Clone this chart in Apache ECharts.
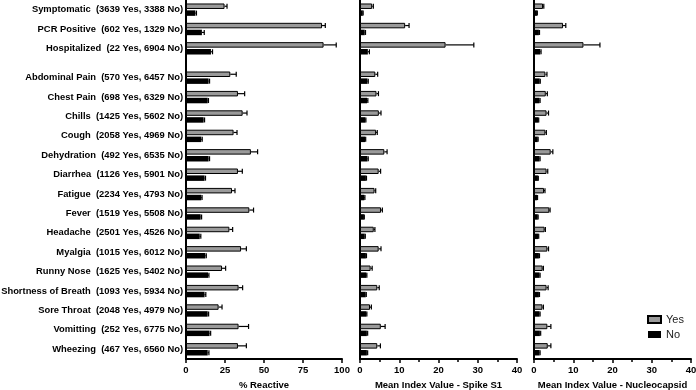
<!DOCTYPE html>
<html>
<head>
<meta charset="utf-8">
<script src="https://cdn.jsdelivr.net/npm/echarts@6/dist/echarts.min.js"></script>
<style>html,body{margin:0;background:#fff}#chart{width:696px;height:390px}</style>
</head>
<body>
<div id="chart"></div>
<script>
const FONT = "'Liberation Sans', Arial, sans-serif";

const rowNames = ["Symptomatic", "PCR Positive", "Hospitalized", "Abdominal Pain", "Chest Pain", "Chills",
  "Cough", "Dehydration", "Diarrhea", "Fatigue", "Fever", "Headache", "Myalgia", "Runny Nose",
  "Shortness of Breath", "Sore Throat", "Vomitting", "Wheezing"];
const yesN = [3639, 602, 22, 570, 698, 1425, 2058, 492, 1126, 2234, 1519, 2501, 1015, 1625, 1093, 2048, 252, 467];
const noN = [3388, 1329, 6904, 6457, 6329, 5602, 4969, 6535, 5901, 4793, 5508, 4526, 6012, 5402, 5934, 4979, 6775, 6560];

// % reactive
const reactYes = [24.7, 87.2, 88.2, 28.4, 33.3, 36.3, 30.5, 41.6, 33.3, 29.5, 40.6, 27.8, 35.3, 23.1, 33.7, 20.9, 33.7, 33.3];
const reactYesErr = [1.6, 2.1, 8.1, 3.8, 4.3, 2.8, 2.2, 4.3, 2.8, 1.9, 2.7, 2.1, 3.4, 2.3, 2.6, 2.2, 6.4, 5.4];
const reactNo = [6.0, 10.2, 16.0, 14.5, 13.9, 11.3, 9.8, 14.5, 11.9, 9.8, 9.4, 8.8, 12.4, 14.1, 11.9, 13.9, 15.1, 13.9];
const reactNoErr = [0.7, 1.5, 1.0, 0.6, 0.5, 0.6, 0.6, 0.6, 0.6, 0.5, 0.6, 0.7, 0.6, 0.6, 0.8, 0.6, 0.7, 0.8];

// mean index value, spike S1
const spikeYes = [3.1, 11.5, 21.8, 3.9, 4.2, 4.8, 4.1, 6.2, 4.75, 3.7, 5.35, 3.5, 4.75, 2.7, 4.4, 2.55, 5.3, 4.4];
const spikeYesErr = [0.3, 1.0, 7.2, 0.6, 0.5, 0.55, 0.3, 0.7, 0.5, 0.3, 0.35, 0.3, 0.6, 0.4, 0.5, 0.35, 1.1, 0.8];
const spikeNo = [0.7, 1.2, 2.0, 1.9, 1.8, 1.35, 1.3, 1.9, 1.5, 1.1, 1.0, 1.2, 1.5, 1.6, 1.45, 1.6, 1.75, 1.75];
const spikeNoErr = [0.1, 0.2, 0.4, 0.2, 0.2, 0.15, 0.15, 0.2, 0.15, 0.15, 0.1, 0.15, 0.15, 0.15, 0.15, 0.15, 0.2, 0.2];

// mean index value, nucleocapsid
const nucYes = [2.3, 7.4, 12.6, 2.9, 3.0, 3.2, 2.9, 4.25, 3.2, 2.55, 3.9, 2.7, 3.4, 2.2, 3.2, 2.15, 3.4, 3.5];
const nucYesErr = [0.2, 0.7, 4.2, 0.4, 0.4, 0.5, 0.25, 0.55, 0.3, 0.25, 0.2, 0.2, 0.3, 0.2, 0.4, 0.25, 0.9, 0.8];
const nucNo = [0.75, 1.25, 1.6, 1.45, 1.4, 1.1, 0.95, 1.4, 1.0, 0.8, 0.95, 1.1, 1.25, 1.4, 1.25, 1.4, 1.5, 1.4];
const nucNoErr = [0.1, 0.15, 0.2, 0.15, 0.15, 0.1, 0.1, 0.15, 0.1, 0.1, 0.1, 0.1, 0.15, 0.15, 0.15, 0.15, 0.2, 0.15];

const labels = rowNames.map((n, i) => `${n}  (${yesN[i]} Yes, ${noN[i]} No)`);
const SPLIT = 3; // symptomatic / PCR / hospitalized sit in their own block above

const panels = [
  { left: 186, width: 156, max: 100, interval: 25, minor: false, name: "% Reactive",
    yes: reactYes, yesErr: reactYesErr, no: reactNo, noErr: reactNoErr, labels: true },
  { left: 360, width: 157, max: 40, interval: 10, minor: true, name: "Mean Index Value - Spike S1",
    yes: spikeYes, yesErr: spikeYesErr, no: spikeNo, noErr: spikeNoErr, labels: false },
  { left: 534, width: 157, max: 40, interval: 10, minor: true, name: "Mean Index Value - Nucleocapsid",
    yes: nucYes, yesErr: nucYesErr, no: nucNo, noErr: nucNoErr, labels: false },
];

const BAR_W = 5.5, GAP = 0.25;
const SHIFT = BAR_W * (1 + GAP) / 2;
const boldText = { fontFamily: FONT, fontWeight: "bold", fontSize: 9.5, color: "#000" };

function errorBars(ax, vals, errs, shift) {
  return {
    type: "custom", xAxisIndex: ax, yAxisIndex: ax, silent: true, z: 3,
    data: vals.map((v, k) => [v, k, v + errs[k]]),
    encode: { x: [0, 2], y: 1 },
    renderItem: (params, api) => {
      const a = api.coord([api.value(0), api.value(1)]);
      const b = api.coord([api.value(2), api.value(1)]);
      const y = a[1] + shift;
      const st = { stroke: "#000", lineWidth: 1.2 };
      return { type: "group", children: [
        { type: "line", shape: { x1: a[0], y1: y, x2: b[0], y2: y }, style: st },
        { type: "line", shape: { x1: b[0], y1: y - 2.5, x2: b[0], y2: y + 2.5 }, style: st },
      ] };
    },
  };
}

const grid = [], xAxis = [], yAxis = [], series = [];
panels.forEach((p) => {
  const parts = [
    { top: 0, height: 58, from: 0, to: SPLIT, showX: false },
    { top: 68, height: 291, from: SPLIT, to: rowNames.length, showX: true },
  ];
  parts.forEach((part) => {
    const ax = grid.length;
    grid.push({ left: p.left, width: p.width, top: part.top, height: part.height, outerBoundsMode: "none" });
    xAxis.push({
      gridIndex: ax, type: "value", min: 0, max: p.max, interval: p.interval, show: part.showX,
      axisLine: { show: true, onZero: false, lineStyle: { color: "#000", width: 2 } },
      axisTick: { show: true, length: 4, lineStyle: { color: "#000", width: 1.5 } },
      minorTick: { show: p.minor, splitNumber: 2, length: 3, lineStyle: { color: "#000", width: 1.5 } },
      splitLine: { show: false },
      axisLabel: { ...boldText, margin: 6 },
      name: p.name, nameLocation: "middle", nameGap: 18,
      nameTextStyle: { ...boldText },
    });
    yAxis.push({
      gridIndex: ax, type: "category", inverse: true, data: labels.slice(part.from, part.to),
      axisLine: { show: false }, axisTick: { show: false },
      axisLabel: { show: p.labels, interval: 0, ...boldText, fontSize: 9.4, margin: 3 },
    });
    const yes = p.yes.slice(part.from, part.to), no = p.no.slice(part.from, part.to);
    series.push(
      { type: "bar", name: "Yes", xAxisIndex: ax, yAxisIndex: ax, data: yes, barWidth: BAR_W, barGap: GAP * 100 + "%",
        itemStyle: { color: "#9a9a9a", borderColor: "#000", borderWidth: 1 }, silent: true },
      { type: "bar", name: "No", xAxisIndex: ax, yAxisIndex: ax, data: no, barWidth: BAR_W, barGap: GAP * 100 + "%",
        itemStyle: { color: "#000" }, silent: true },
      errorBars(ax, yes, p.yesErr.slice(part.from, part.to), -SHIFT),
      errorBars(ax, no, p.noErr.slice(part.from, part.to), SHIFT),
    );
  });
  // full-height frame so the vertical axis line runs through the gap
  const ax = grid.length;
  grid.push({ left: p.left, width: p.width, top: 0, height: 359, outerBoundsMode: "none" });
  xAxis.push({ gridIndex: ax, type: "value", min: 0, max: 1, show: false });
  yAxis.push({
    gridIndex: ax, type: "category", data: [""],
    axisLine: { show: true, onZero: false, lineStyle: { color: "#000", width: 2 } },
    axisTick: { show: false }, axisLabel: { show: false },
  });
});

const chart = echarts.init(document.getElementById("chart"));
chart.setOption({
  animation: false,
  backgroundColor: "#fff",
  grid, xAxis, yAxis, series,
  legend: {
    data: ["Yes", "No"], orient: "vertical", left: 642, top: 309, icon: "rect",
    itemWidth: 13, itemHeight: 7, itemGap: 4, selectedMode: false,
    textStyle: { fontFamily: FONT, fontSize: 11, color: "#222" },
  },
});
</script>
</body>
</html>
